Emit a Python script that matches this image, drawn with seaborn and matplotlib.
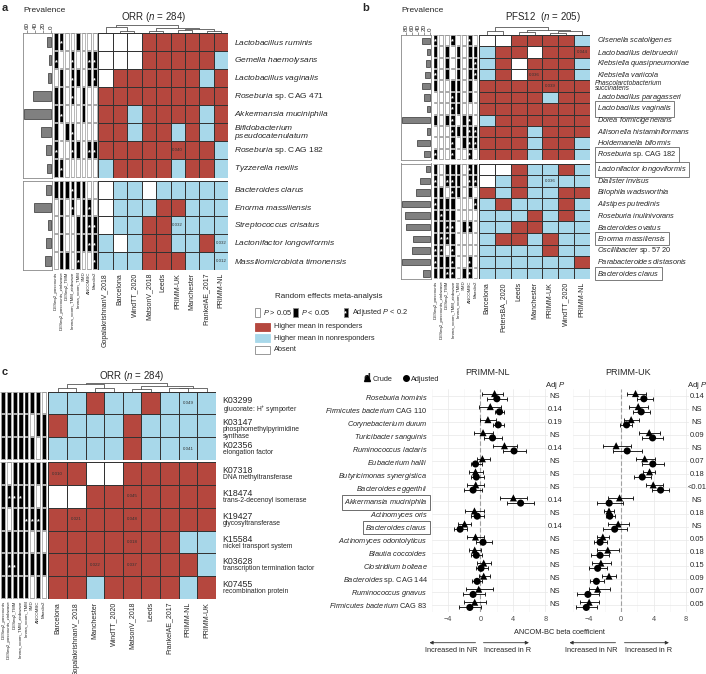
import numpy as np
import pandas as pd
import matplotlib
matplotlib.use("Agg")
import matplotlib.pyplot as plt
import seaborn as sns
from matplotlib.colors import ListedColormap
from matplotlib.patches import Rectangle, FancyArrowPatch
from matplotlib.lines import Line2D

sns.set_style("white")
plt.rcParams["font.family"] = ["Liberation Sans", "DejaVu Sans"]
plt.rcParams["mathtext.fontset"] = "custom"
plt.rcParams["mathtext.rm"] = "Liberation Sans"
plt.rcParams["mathtext.it"] = "Liberation Sans:italic"
plt.rcParams["mathtext.bf"] = "Liberation Sans:bold"

RED = "#b5473e"
BLUE = "#a8d8ea"
W, H = 706, 674

# ---------------- data ----------------
methods = ["DESeq2_poscounts", "DESeq2_poscounts_zinbwave", "DESeq2_TMM",
           "limma_voom_TMM_zinbwave", "limma_voom_TMM", "SMD", "ANCOMBC", "Maaslin2"]

# panel a  (R = higher in responders, N = higher in nonresponders, A = absent)
a_cohorts = ["GopalakrishnanV_2018", "Barcelona", "WindTT_2020", "MatsonV_2018", "Leeds",
             "PRIMM-UK", "Manchester", "FrankelAE_2017", "PRIMM-NL"]
a_top = ["Lactobacillus ruminis", "Gemella haemolysans", "Lactobacillus vaginalis",
         "Roseburia| sp. CAG 471", "Akkermansia muciniphila",
         "Bifidobacterium\npseudocatenulatum", "Roseburia| sp. CAG 182", "Tyzzerella nexilis"]
a_bot = ["Bacteroides clarus", "Enorma massiliensis", "Streptococcus crisatus",
         "Lactonifactor longoviformis", "Massiliomicrobiota timonensis"]
a_prev_top = [9, 6, 8, 45, 68, 24, 13, 9]
a_prev_bot = [13, 43, 7, 12, 15]
a_dir_top = ["AAARRRRRR", "AAARRRRRN", "ARRRRRRNR", "RRRRRRRRR",
             "RRNRRRRNR", "RRNRRNRNR", "RRRRRRRRN", "NRRRRNRRN"]
a_dir_bot = ["ANNANNNNN", "ANNNRRNNN", "ANNRRNNNN", "NANRRNNRN", "NNNRRRNNN"]
a_pval_top = [(6, 5, "0.040")]
a_pval_bot = [(2, 5, "0.032"), (3, 8, "0.032"), (4, 8, "0.012")]
# 0: P > 0.05, 1: P < 0.05, 2: adjusted P < 0.2
a_meth_top = ["12001000", "20020022", "01021012", "11020100",
              "12000100", "10120000", "20021022", "12000000"]
a_meth_bot = ["11121100", "01020120", "01001122", "01001122", "01102002"]
a_tree = [(1, 2, 0.3), (0, 9, 0.8), (3, 4, 0.2), (5, 6, 0.35), (7, 8, 0.3),
          (12, 13, 0.55), (11, 14, 0.7), (10, 15, 1.0)]

# panel b
b_cohorts = ["Barcelona", "PetersBA_2020", "Leeds", "Manchester", "PRIMM-UK",
             "WindTT_2020", "PRIMM-NL"]
b_top = ["Olsenella scatoligenes", "Lactobacillus delbrueckii", "Klebsiella quasipneumoniae",
         "Klebsiella variicola", "Phascolarctobacterium\nsuccinatens",
         "Lactobacillus paragasseri", "Lactobacillus vaginalis", "Dorea formicigenerans",
         "Allisonella histaminiformans", "Holdemanella biformis", "Roseburia| sp. CAG 182"]
b_bot = ["Lactonifactor longoviformis", "Dialister invisus", "Bilophila wadsworthia",
         "Alistipes putredinis", "Roseburia inulinivorans", "Bacteroides ovatus",
         "Enorma massiliensis", "Oscillibacter| sp. 57 20", "Parabacteroides distasonis",
         "Bacteroides clarus"]
b_boxed = ["Lactobacillus vaginalis", "Roseburia| sp. CAG 182", "Lactonifactor longoviformis",
           "Enorma massiliensis", "Bacteroides clarus"]
b_prev_top = [26, 9, 13, 17, 26, 19, 11, 92, 9, 43, 19]
b_prev_bot = [12, 32, 47, 92, 83, 81, 56, 61, 92, 23]
b_dir_top = ["AARRRRN", "NRRARRR", "NRARRRN", "NRARRRN", "RRRRRRR", "RRRRNRR",
             "RRRRRRR", "NRRRRRR", "RRRNRRR", "RRRNRRN", "RRRNRRN"]
b_dir_bot = ["AARNNRN", "ANRNNNN", "RNRNNRR", "NRNNNRN", "NNNRNRN", "NNRRNNN",
             "NRRNRNN", "NNNNRNN", "NNNNNNR", "NNNNNNN"]
b_pval_top = [(1, 6, "0.044"), (3, 3, "0.036"), (4, 4, "0.039")]
b_pval_bot = [(1, 4, "0.036")]
b_meth_top = ["20020020", "10101011", "10101012", "20101012", "10011010", "00021010",
              "00021000", "10120120", "00021122", "00020122", "20020020"]
b_meth_bot = ["10111021", "20221022", "11021010", "21110002", "12110000", "11220120",
              "12210000", "22020000", "21120020", "11220120"]
b_tree = [(0, 1, 0.5), (2, 3, 0.4), (4, 5, 0.3), (9, 6, 0.5), (8, 10, 0.7), (7, 11, 1.0)]

# panel c
c_cohorts = ["Barcelona", "GopalakrishnanV_2018", "Manchester", "WindTT_2020", "MatsonV_2018",
             "Leeds", "FrankelAE_2017", "PRIMM-NL", "PRIMM-UK"]
c_top = ["K03299", "K03147", "K02356"]
c_top_desc = ["gluconate: H$^{+}$ symporter", "phosphomethylpyrimidine\nsynthase", "elongation factor"]
c_bot = ["K07318", "K18474", "K19427", "K15584", "K03628", "K07455"]
c_bot_desc = ["DNA methyltransferase", "trans-2-decenoyl isomerase", "glycosyltransferase",
              "nickel transport system", "transcription termination factor", "recombination protein"]
c_dir_top = ["NNRNNRNNN", "RNNNRNNNN", "NNNNRNNNN"]
c_dir_bot = ["RRAARRRRR", "AARRRRRRR", "RRRRRRRRR", "RRRRRRRNN", "RRRRRRRRN", "RRNRRRRNR"]
c_pval_top = [(0, 7, "0.049"), (2, 7, "0.041")]
c_pval_bot = [(0, 0, "0.010"), (1, 4, "0.045"), (2, 1, "0.021"), (2, 4, "0.048"),
              (3, 4, "0.018"), (4, 2, "0.022"), (4, 4, "0.037")]
c_meth_top = ["11111110", "11111011", "11111101"]
c_meth_bot = ["10111111", "12221101", "10112221", "11111010", "12211111", "11111010"]
c_tree = [(0, 1, 0.4), (2, 3, 0.5), (9, 10, 0.9), (4, 5, 0.3), (6, 7, 0.4),
          (13, 8, 0.5), (12, 14, 0.7), (11, 15, 1.0)]

# panel d
d_species = ["Roseburia hominis", "Firmicutes bacterium| CAG 110", "Corynebacterium durum",
             "Turicibacter sanguinis", "Ruminococcus lactaris", "Eubacterium hallii",
             "Butyricimonas synergistica", "Bacteroides eggerthii", "Akkermansia muciniphila",
             "Actinomyces oris", "Bacteroides clarus", "Actinomyces odontolyticus",
             "Blautia coccoides", "Clostridium bolteae", "Bacteroides| sp. CAG 144",
             "Ruminococcus gnavus", "Firmicutes bacterium| CAG 83"]
d_boxed = ["Akkermansia muciniphila", "Bacteroides clarus"]
nl_crude = [1.75, 1.22, 0.93, 0.33, 2.97, 0.25, -0.6, -0.57, 4.07, -0.73, -1.95, -0.6, -0.7, 0.41, 0.41, -0.2, -0.7]
nl_crude_lo = [0.24, -0.2, -0.1, -0.8, 1.5, -0.4, -1.4, -1.6, 2.4, -1.95, -2.7, -1.7, -1.4, -0.4, -0.2, -1.8, -2.0]
nl_crude_hi = [2.8, 2.5, 1.95, 1.5, 4.5, 1.15, 0.3, 0.5, 5.7, 0.5, -1.2, 0.5, 0.1, 1.3, 1.15, 1.6, 0.7]
nl_adj = [2.03, 2.36, 2.2, 1.5, 4.15, -0.6, -0.5, -0.9, 4.96, -0.4, -2.5, 0.33, -0.5, 0.08, -0.4, -0.9, -1.3]
nl_adj_lo = [0.8, 1.8, 1.5, 0.5, 2.8, -1.2, -1.2, -2.0, 3.3, -1.2, -3.3, -0.6, -1.2, -0.6, -1.0, -2.2, -2.6]
nl_adj_hi = [3.3, 2.9, 2.9, 2.65, 5.6, 0.2, 0.4, 0.2, 6.6, 0.5, -1.6, 1.4, 0.2, 0.9, 0.2, 0.6, 0.08]
nl_p = ["NS", "0.14", "0.19", "NS", "0.14", "NS", "NS", "NS", "0.14", "NS", "0.14",
        "NS", "NS", "NS", "NS", "NS", "NS"]
uk_crude = [1.77, 2.1, 1.23, 3.46, -0.62, 2.9, 3.5, 3.95, -0.2, -1.5, -0.37, -2.26, -1.65, -2.5, -1.5, -2.9, -3.95]
uk_crude_lo = [0.74, 0.95, 0.33, 2.2, -2.2, 1.8, 2.7, 3.0, -1.65, -2.1, -1.65, -3.0, -3.0, -3.6, -2.35, -4.0, -5.1]
uk_crude_hi = [3.0, 3.3, 2.2, 4.8, 1.15, 4.2, 4.2, 5.1, 1.5, -0.9, 0.95, -1.5, -0.3, -1.3, -0.6, -1.4, -2.75]
uk_adj = [2.8, 2.47, 0.66, 3.87, 0.74, 3.9, 2.6, 4.86, -1.48, -1.4, -0.8, -2.6, -2.6, -2.9, -3.05, -4.1, -4.3]
uk_adj_lo = [1.9, 1.5, -0.16, 2.6, -1.0, 2.6, 1.6, 3.8, -2.96, -1.9, -2.3, -3.4, -3.7, -4.0, -3.9, -5.4, -5.6]
uk_adj_hi = [3.95, 3.6, 1.36, 5.2, 2.6, 5.3, 3.7, 5.9, 0.25, -0.8, 0.74, -1.8, -1.5, -1.7, -2.1, -2.75, -2.96]
uk_p = ["0.14", "NS", "NS", "0.09", "NS", "0.07", "0.18", "<0.01", "NS", "0.18", "NS",
        "0.05", "0.18", "0.15", "0.09", "0.07", "0.05"]


# ---------------- helpers ----------------
fig = plt.figure(figsize=(W / 100, H / 100), dpi=100)


def fx(x):
    return x / W


def fy(y):
    return 1 - y / H


def px_axes(x0, y0, x1, y1):
    return fig.add_axes([x0 / W, 1 - y1 / H, (x1 - x0) / W, (y1 - y0) / H])


def lab(s):
    out = []
    for line in s.split("\n"):
        it, rm = line.split("|") if "|" in line else (line, "")
        out.append(r"$\it{" + it.replace(" ", r"\ ") + "}$" + rm)
    return "\n".join(out)


dir_cmap = ListedColormap([BLUE, "white", RED])
dir_code = {"N": -1, "A": 0, "R": 1}
meth_cmap = ListedColormap(["white", "black", "black"])


def dir_heat(ax, codes, pvals, rows, cols, fs, boxed=(), pad=4, lsp=0.9, fs2=None):
    mat = np.array([[dir_code[c] for c in r] for r in codes])
    ann = np.full(mat.shape, "", dtype=object)
    for i, j, t in pvals:
        ann[i, j] = t
    sns.heatmap(mat, ax=ax, cmap=dir_cmap, vmin=-1.5, vmax=1.5, cbar=False,
                linewidths=0.6, linecolor="#333333", annot=ann, fmt="",
                annot_kws={"size": 3.2, "color": "#333333"},
                xticklabels=cols if cols else False,
                yticklabels=[lab(r) for r in rows] if rows else False)
    ax.yaxis.tick_right()
    ax.tick_params(axis="both", length=0)
    if rows:
        # two-line names are written by hand (plain italic) so they can be packed tighter
        shown = ["" if ("\n" in r and fs2) else lab(r) for r in rows]
        ax.set_yticklabels(shown, rotation=0, fontsize=fs, va="center")
        ax.tick_params(axis="y", pad=pad)
        for i, (r, tl) in enumerate(zip(rows, ax.get_yticklabels())):
            if "\n" in r:
                if fs2:
                    ax.text(len(codes[0]) + pad / 72 * 100 / (ax.get_position().width * W
                                                             / len(codes[0])) * 0.72,
                            i + 0.5, r, fontsize=fs2, fontstyle="italic", ha="left",
                            va="center", linespacing=lsp, clip_on=False)
                else:
                    tl.set_linespacing(lsp)
            if r in boxed:
                tl.set_bbox(dict(fc="none", ec="#666666", lw=0.6, boxstyle="square,pad=0.3"))
    if cols:
        ax.set_xticklabels(cols, rotation=90, fontsize=5)
        ax.tick_params(axis="x", pad=2)


def meth_heat(ax, codes, show_x):
    mat = np.array([[int(c) for c in r] for r in codes])
    sns.heatmap(mat, ax=ax, cmap=meth_cmap, vmin=-0.5, vmax=2.5, cbar=False,
                linewidths=0.3, linecolor="#aaaaaa",
                xticklabels=methods if show_x else False, yticklabels=False)
    nr, nc = mat.shape
    ax.vlines(np.arange(nc + 1), 0, nr, color="white", lw=1.0)
    for j in range(nc):
        ax.add_patch(Rectangle((j + 0.12, 0), 0.76, nr, fill=False, ec="#999999", lw=0.6))
    for i, j in zip(*np.where(mat == 2)):
        ax.text(j + 0.5, i + 0.62, "*", color="white", ha="center", va="center",
                fontsize=5, fontweight="bold")
    ax.tick_params(axis="x", length=0, pad=1)
    if show_x:
        ax.set_xticklabels(methods, rotation=90, fontsize=3.2)


def prev_bar(ax, names, vals, xmax, ticks):
    df = pd.DataFrame({"name": names, "prev": vals})
    sns.barplot(data=df, x="prev", y="name", ax=ax, color="#808080", saturation=1,
                edgecolor="#333333", linewidth=0.5, width=0.55, orient="h")
    ax.set_xlim(xmax, -2)
    ax.set_xlabel("")
    ax.set_ylabel("")
    ax.set_yticks([])
    for sp in ax.spines.values():
        sp.set_visible(True)
        sp.set_color("#888888")
        sp.set_linewidth(0.6)
    if ticks:
        ax.set_xticks(ticks)
        ax.tick_params(axis="x", top=True, labeltop=True, bottom=False, labelbottom=False,
                       length=2, width=0.5, labelsize=4.5, labelrotation=90, pad=1,
                       color="#666666")
    else:
        ax.set_xticks([])


def dendro(ax, n, merges):
    pos = {i: (i + 0.5, 0.0) for i in range(n)}
    for k, (a, b, h) in enumerate(merges):
        xa, ha = pos[a]
        xb, hb = pos[b]
        ax.plot([xa, xa, xb, xb], [ha, h, h, hb], color="#555555", lw=0.6)
        pos[n + k] = ((xa + xb) / 2, h)
    ax.set_xlim(0, n)
    ax.set_ylim(0, 1.05)
    ax.axis("off")


# ---------------- panel a ----------------
fig.text(fx(2), fy(8), "a", fontsize=8, fontweight="bold", va="center")
fig.text(fx(44), fy(10), "Prevalence", fontsize=6, ha="center", va="center")
fig.text(fx(154), fy(17), r"ORR ($\it{n}$ = 284)", fontsize=7, ha="center", va="center")
prev_bar(px_axes(23.3, 33, 51.7, 177.5), a_top, a_prev_top, 70, [60, 40, 20, 0])
prev_bar(px_axes(23.3, 180.7, 51.7, 270), a_bot, a_prev_bot, 70, None)
meth_heat(px_axes(53.3, 33, 97.5, 177.5), a_meth_top, False)
meth_heat(px_axes(53.3, 180.7, 97.5, 270), a_meth_bot, True)
dir_heat(px_axes(98.3, 33, 228.3, 177.5), a_dir_top, a_pval_top, a_top, None, 6)
dir_heat(px_axes(98.3, 180.7, 228.3, 270), a_dir_bot, a_pval_bot, a_bot, a_cohorts, 6)
dendro(px_axes(98.3, 25, 228.3, 33), len(a_cohorts), a_tree)

# legend for heatmaps
fig.text(fx(275), fy(297), "Random effects meta-analysis", fontsize=5.8, va="center")
for x0, fc, star, txt in [(255, "white", False, r"$\it{P}$ > 0.05"),
                          (293, "black", False, r"$\it{P}$ < 0.05"),
                          (343.5, "black", True, r"Adjusted $\it{P}$ < 0.2")]:
    fig.add_artist(Rectangle((fx(x0), fy(317)), 4.5 / W, 9 / H, fc=fc, ec="#888888",
                             lw=0.6, transform=fig.transFigure))
    if star:
        fig.text(fx(x0 + 2.25), fy(313.5), "*", color="white", fontsize=5,
                 ha="center", va="center", fontweight="bold")
    fig.text(fx(x0 + 8), fy(312.5), txt, fontsize=5.3, va="center")
for y0, fc, txt in [(322.7, RED, "Higher mean in responders"),
                    (334, BLUE, "Higher mean in nonresponders"),
                    (345.5, "white", "Absent")]:
    fig.add_artist(Rectangle((fx(255), fy(y0 + 8)), 15 / W, 8 / H, fc=fc,
                             ec="#888888" if fc == "white" else fc, lw=0.6,
                             transform=fig.transFigure))
    fig.text(fx(274), fy(y0 + 4), txt, fontsize=5.3, va="center")

# ---------------- panel b ----------------
fig.text(fx(362), fy(8), "b", fontsize=8, fontweight="bold", va="center")
fig.text(fx(422), fy(10), "Prevalence", fontsize=6, ha="center", va="center")
fig.text(fx(543), fy(17), r"PFS12  ($\it{n}$ = 205)", fontsize=7, ha="center", va="center")
prev_bar(px_axes(400.7, 35, 430.7, 160), b_top, b_prev_top, 98, [80, 60, 40, 20, 0])
prev_bar(px_axes(400.7, 163.5, 430.7, 279.3), b_bot, b_prev_bot, 98, None)
meth_heat(px_axes(432.7, 35, 478.3, 160), b_meth_top, False)
meth_heat(px_axes(432.7, 163.5, 478.3, 279.3), b_meth_bot, True)
dir_heat(px_axes(479, 35, 590, 160), b_dir_top, b_pval_top, b_top, None, 5.3, b_boxed, 5,
         0.68, 4.8)
dir_heat(px_axes(479, 163.5, 590, 279.3), b_dir_bot, b_pval_bot, b_bot, b_cohorts, 5.3, b_boxed, 5)
dendro(px_axes(479, 27, 590, 35), len(b_cohorts), b_tree)

# ---------------- panel c ----------------
fig.text(fx(2), fy(372), "c", fontsize=8, fontweight="bold", va="center")
fig.text(fx(132), fy(376), r"ORR ($\it{n}$ = 284)", fontsize=7, ha="center", va="center")
meth_heat(px_axes(0.3, 391.7, 46.7, 460), c_meth_top, False)
meth_heat(px_axes(0.3, 462.3, 46.7, 599), c_meth_bot, True)
for box, codes, pv, kos, descs, cols in [
        ((48.3, 391.7, 216, 460), c_dir_top, c_pval_top, c_top, c_top_desc, None),
        ((48.3, 462.3, 216, 599), c_dir_bot, c_pval_bot, c_bot, c_bot_desc, c_cohorts)]:
    ax = px_axes(*box)
    dir_heat(ax, codes, pv, None, cols, 6)
    rh = (box[3] - box[1]) / len(codes)
    for i, (ko, ds) in enumerate(zip(kos, descs)):
        ax.text(len(c_cohorts) + 0.35, i + 0.5 - 3 / rh, ko, fontsize=6.3,
                ha="left", va="center", clip_on=False)
        ax.text(len(c_cohorts) + 0.35, i + 0.5 + 0.5 / rh, ds, fontsize=4.9,
                ha="left", va="top", linespacing=0.95, clip_on=False)
dendro(px_axes(48.3, 383, 216, 391.7), len(c_cohorts), c_tree)

# ---------------- panel d ----------------
fig.text(fx(363), fy(378), "d", fontsize=8, fontweight="bold", va="center")


def forest(ax, crude, clo, chi, adj, alo, ahi, pv, px_p, show_y):
    n = len(crude)
    pos = np.arange(n)
    ax.set_xlim(-5.9, 8.3)
    ax.set_ylim(n - 0.45, -0.55)
    ax.set_xticks([-4, 0, 4, 8])
    ax.set_xticks([-6, -2, 2, 6], minor=True)
    ax.set_yticks(pos)
    ax.grid(True, which="major", color="#e8e8e8", lw=0.5)
    ax.grid(True, which="minor", axis="x", color="#f3f3f3", lw=0.4)
    ax.set_axisbelow(True)
    ax.axvline(0, color="#a0a0a0", lw=0.8, dashes=(4, 2), zorder=1)
    for vals, lo, hi, off in [(crude, clo, chi, -0.2), (adj, alo, ahi, 0.2)]:
        v = np.array(vals)
        ax.errorbar(v, pos + off, xerr=[v - np.array(lo), np.array(hi) - v], fmt="none",
                    ecolor="black", elinewidth=0.6, capsize=1.3, capthick=0.6, zorder=2)
    df = pd.DataFrame({"beta": np.r_[crude, adj], "pos": np.r_[pos - 0.2, pos + 0.2],
                       "model": ["Crude"] * n + ["Adjusted"] * n})
    sns.scatterplot(data=df, x="beta", y="pos", style="model",
                    markers={"Crude": "^", "Adjusted": "o"}, color="black", s=26,
                    linewidth=0, ax=ax, legend=False, zorder=3)
    ax.set_xlabel("")
    ax.set_ylabel("")
    for sp in ax.spines.values():
        sp.set_visible(False)
    ax.tick_params(axis="both", length=0)
    ax.tick_params(axis="x", labelsize=5.3, labelcolor="#4d4d4d", pad=3)
    ax.set_xticklabels(["\u22124", "0", "4", "8"])
    if show_y:
        ax.set_yticklabels([lab(s) for s in d_species], fontsize=5.3)
        ax.tick_params(axis="y", pad=3)
        for s, tl in zip(d_species, ax.get_yticklabels()):
            if s in d_boxed:
                tl.set_bbox(dict(fc="none", ec="#555555", lw=0.6, boxstyle="square,pad=0.3"))
    else:
        ax.set_yticklabels([])
    xp = (px_p - (ax.get_position().x0 * W)) / (ax.get_position().width * W) * 14.2 - 5.9
    ax.text(xp, -0.82, r"Adj $\it{P}$", fontsize=5.6, ha="center", va="center", clip_on=False)
    for i, t in enumerate(pv):
        ax.text(xp, i, t, fontsize=5.4, ha="center", va="center", clip_on=False)


forest(px_axes(431.7, 389, 547.7, 612), nl_crude, nl_crude_lo, nl_crude_hi,
       nl_adj, nl_adj_lo, nl_adj_hi, nl_p, 555, True)
forest(px_axes(572.5, 389, 688.5, 612), uk_crude, uk_crude_lo, uk_crude_hi,
       uk_adj, uk_adj_lo, uk_adj_hi, uk_p, 697, False)
fig.text(fx(488), fy(373), "PRIMM-NL", fontsize=6.5, ha="center", va="center")
fig.text(fx(628), fy(373), "PRIMM-UK", fontsize=6.5, ha="center", va="center")
fig.legend(handles=[Line2D([], [], marker="^", ls="", color="black", ms=4, label="Crude"),
                    Line2D([], [], marker="o", ls="", color="black", ms=4, label="Adjusted")],
           loc="center left", bbox_to_anchor=(fx(357), fy(379)), ncol=2, frameon=False,
           fontsize=5.3, handletextpad=0.2, columnspacing=1.4, handlelength=1.0)
fig.text(fx(559), fy(633), "ANCOM-BC beta coefficient", fontsize=5.3, ha="center", va="center")
for x_from, x_to, x_txt, txt in [(478.3, 426.7, 451, "Increased in NR"),
                                 (480.7, 531.7, 508, "Increased in R"),
                                 (618.3, 566.7, 591, "Increased in NR"),
                                 (621.7, 671.7, 649, "Increased in R")]:
    fig.add_artist(FancyArrowPatch((fx(x_from), fy(642.7)), (fx(x_to), fy(642.7)),
                                   transform=fig.transFigure, arrowstyle="-|>",
                                   mutation_scale=5, lw=0.6, color="#333333"))
    fig.text(fx(x_txt), fy(651), txt, fontsize=5.3, ha="center", va="center")

fig.savefig("out.png", dpi=100)
